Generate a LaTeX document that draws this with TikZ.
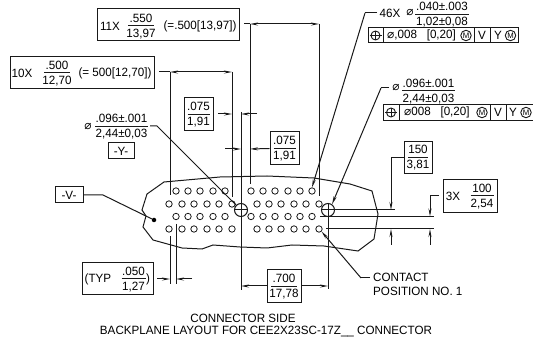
\documentclass[tikz,border=0pt]{standalone}
\usepackage{fontspec}
\setmainfont[FakeStretch=0.97]{Liberation Sans}
\newfontfamily\symf{DejaVu Sans}
\usetikzlibrary{arrows.meta}
\newcommand{\Dia}{{\symf ⌀}}
% name, x, y(line), half width, top, bottom
\newcommand{\FracAt}[6]{%
  \node[txt] (#1-t) at (#2,#3-8) {#5};
  \node[txt] (#1-b) at (#2,#3+8) {#6};
  \coordinate (#1-l) at (#2-#4,#3);
  \coordinate (#1-r) at (#2+#4,#3);
  \draw[ln] (#1-l) -- (#1-r);}
\tikzset{
  ln/.style={line width=1pt,black!90},
  dimarr/.style={ln,-{Stealth[length=8pt,width=3pt]}},
  dimboth/.style={ln,{Stealth[length=8pt,width=3pt]}-{Stealth[length=8pt,width=3pt]}},
  txt/.style={inner sep=0pt,font=\fontsize{12}{13}\selectfont,text=black},
  frbox/.style={draw=black!90,line width=1pt,inner sep=0pt},
  hole/.style={circle,draw=black!90,line width=0.8pt,minimum size=6.4pt,inner sep=0pt},
  big/.style={circle,draw=black!90,line width=1pt,minimum size=13pt,inner sep=0pt},
  possym/.style={circle,draw=black!90,line width=0.9pt,minimum size=9pt,inner sep=0pt},
  emm/.style={circle,draw=black!90,line width=0.9pt,minimum size=10.5pt,inner sep=0pt,font=\fontsize{8}{9}\selectfont},
  vdot/.style={circle,fill=black,minimum size=4.5pt,inner sep=0pt}
}
\begin{document}
\begin{tikzpicture}[x=1pt,y=-1pt]
\useasboundingbox (0,0) rectangle (533,344);
% outline
\draw[ln] (164,182) -- (147,194) -- (142,210) -- (146,216) -- (143,227) -- (153,240) -- (182,248) -- (202,249) -- (213,245) -- (240,247) -- (267,248) -- (292,245) -- (324,246) -- (358,251) -- (374,239) -- (378,214) -- (372,191) -- (350,184) -- (314,178) -- (267,176) -- (220,177) -- cycle;
% holes
\foreach \x in {176,188,200,213,225,251,263,275,288,300,312} {
  \node[hole] (ha-\x) at (\x,191) {};
  \node[hole] (hc-\x) at (\x,216.5) {};
}
\foreach \x in {169,182,194,207,219,232,257,269,281,294,306,319} {
  \node[hole] (hb-\x) at (\x,204) {};
  \node[hole] (hd-\x) at (\x,229) {};
}
\node[big] (c1) at (241,210) {};
\draw[ln] (c1.west) -- (c1.east);
\node[big] (c2) at (328,210) {};
\draw[ln] (c2.west) -- (c2.east);
% extension line ends
\coordinate (e170t) at (170,72); \coordinate (e170b) at (170,195);
\coordinate (e232t) at (232,72); \coordinate (e232b) at (232,197);
\coordinate (e250t) at (250,24); \coordinate (e250b) at (250,184);
\coordinate (e319t) at (319,24); \coordinate (e319b) at (319,196);
\coordinate (e241t) at (241,112); \coordinate (e241b) at (241,290);
\coordinate (e328b) at (328,289);
\coordinate (e170c) at (170,236); \coordinate (e170d) at (170,284);
\coordinate (e176c) at (176,224); \coordinate (e176d) at (176,284);
\draw[ln] (e170t) -- (e170b);
\draw[ln] (e232t) -- (e232b);
\draw[ln] (e250t) -- (e250b);
\draw[ln] (e319t) -- (e319b);
\draw[ln] (e241t) -- (e241b);
\draw[ln] (c2.north) -- (e328b);
\draw[ln] (e170c) -- (e170d);
\draw[ln] (e176c) -- (e176d);
\coordinate (r1a) at (334,210); \coordinate (r1b) at (395,210);
\coordinate (r2a) at (320,216.5); \coordinate (r2b) at (434,216.5);
\coordinate (r3a) at (326,229); \coordinate (r3b) at (434,229);
\draw[ln] (r1a) -- (r1b);
\draw[ln] (r2a) -- (r2b);
\draw[ln] (r3a) -- (r3b);
% 11X
\node[frbox,minimum width=142pt,minimum height=32pt] (b11) at (168,25) {};
\node[txt] (t11) at (110,26) {11X};
\FracAt{f11}{141}{26}{13}{.550}{13,97}
\node[txt] (p11) at (200,26) {(=.500[13,97])};
\coordinate (d11a) at (244,24); \coordinate (d11b) at (250,24); \coordinate (d11c) at (319,24);
\draw[ln] (d11a) -- (d11b);
\draw[dimboth] (d11b) -- (d11c);
% 10X
\node[frbox,minimum width=144pt,minimum height=32pt] (b10) at (82,73) {};
\node[txt] (t10) at (22,73) {10X};
\FracAt{f10}{57}{73}{13}{.500}{12,70}
\node[txt] (p10) at (115,73) {(= 500[12,70])};
\coordinate (d10a) at (159,72); \coordinate (d10b) at (170,72); \coordinate (d10c) at (232,72);
\draw[ln] (d10a) -- (d10b);
\draw[dimboth] (d10b) -- (d10c);
% .075 upper
\node[frbox,minimum width=29pt,minimum height=33pt] (b75a) at (198.5,114.5) {};
\FracAt{f75a}{198.5}{114.5}{11}{.075}{1,91}
\coordinate (a1) at (218,114); \coordinate (a2) at (232,114); \coordinate (a3) at (257,114); \coordinate (a4) at (241,114);
\draw[dimarr] (a1) -- (a2);
\draw[dimarr] (a3) -- (a4);
% .075 lower
\node[frbox,minimum width=29pt,minimum height=33pt] (b75b) at (284.5,148.5) {};
\FracAt{f75b}{284.5}{148.5}{11}{.075}{1,91}
\coordinate (a5) at (225,149); \coordinate (a6) at (241,149); \coordinate (a7) at (250,149);
\draw[dimarr] (a5) -- (a6);
\draw[dimarr] (b75b.west) -- (a7);
% left dia + Y
\node[txt] (dl) at (88,127) {\Dia};
\FracAt{fl}{121.5}{126.5}{26.5}{.096±.001}{2,44±0,03}
\coordinate (ll1) at (150,126); \coordinate (ll2) at (157,126);
\draw[ln] (ll1) -- (ll2) -- (c1.135);
\node[frbox,minimum width=26pt,minimum height=16pt,txt] (yb) at (121,151) {-Y-};
% 46X
\node[txt] (t46) at (390,13) {46X};
\node[txt] (d46) at (410,13) {\Dia};
\FracAt{f46}{442}{14.5}{27}{.040±.003}{1,02±0,08}
\coordinate (l46a) at (377,13); \coordinate (l46b) at (365,13);
\draw[ln] (l46a) -- (l46b);
\draw[dimarr] (l46b) -- (ha-312.north);
% FCF 1
\node[frbox,minimum width=150pt,minimum height=15pt] (fa) at (443,35.5) {};
\coordinate (fa1t) at (383,28); \coordinate (fa1b) at (383,43);
\coordinate (fa2t) at (474,28); \coordinate (fa2b) at (474,43);
\coordinate (fa3t) at (490,28); \coordinate (fa3b) at (490,43);
\draw[ln] (fa1t) -- (fa1b);
\draw[ln] (fa2t) -- (fa2b);
\draw[ln] (fa3t) -- (fa3b);
\node[possym] (pa) at (375.5,35.5) {};
\coordinate (pa1) at (369.5,35.5); \coordinate (pa2) at (381.5,35.5);
\draw[ln] (pa1) -- (pa2);
\draw[ln] (pa.north) -- (pa.south);
\node[txt,anchor=west] (ta) at (387,35.5) {\Dia,008 \ \ [0,20]};
\node[emm] (ma1) at (466,35.5) {M};
\node[txt] (va) at (482,35.5) {V};
\node[txt] (ya) at (498,35.5) {Y};
\node[emm] (ma2) at (510.5,35.5) {M};
% right dia
\node[txt] (dr) at (396,88) {\Dia};
\FracAt{fr}{428.5}{91}{26.5}{.096±.001}{2,44±0,03}
\coordinate (lr1) at (389,88); \coordinate (lr2) at (381,88);
\draw[ln] (lr1) -- (lr2);
\draw[dimarr] (lr2) -- (c2.55);
% FCF 2
\node[frbox,minimum width=150pt,minimum height=16pt] (fb) at (458,112.5) {};
\coordinate (fb1t) at (399,104.5); \coordinate (fb1b) at (399,120.5);
\coordinate (fb2t) at (490,104.5); \coordinate (fb2b) at (490,120.5);
\coordinate (fb3t) at (506,104.5); \coordinate (fb3b) at (506,120.5);
\draw[ln] (fb1t) -- (fb1b);
\draw[ln] (fb2t) -- (fb2b);
\draw[ln] (fb3t) -- (fb3b);
\node[possym] (pb) at (391,112.5) {};
\coordinate (pb1) at (385,112.5); \coordinate (pb2) at (397,112.5);
\draw[ln] (pb1) -- (pb2);
\draw[ln] (pb.north) -- (pb.south);
\node[txt,anchor=west] (tb) at (404,112.5) {\Dia 008 \ \ [0,20]};
\node[emm] (mb1) at (482,112.5) {M};
\node[txt] (vb) at (498,112.5) {V};
\node[txt] (yb2) at (513,112.5) {Y};
\node[emm] (mb2) at (526,112.5) {M};
% 150
\node[frbox,minimum width=28pt,minimum height=32pt] (b150) at (418,158) {};
\FracAt{f150}{418}{157.5}{10}{150}{3,81}
\coordinate (q1) at (391,158); \coordinate (q2) at (391,210); \coordinate (q3) at (391,245); \coordinate (q4) at (391,229);
\draw[dimarr] (b150.west) -- (q1) -- (q2);
\draw[dimarr] (q3) -- (q4);
% 3X
\node[frbox,minimum width=54pt,minimum height=33pt] (b3) at (470,196.5) {};
\node[txt] (t3) at (453,196) {3X};
\FracAt{f3}{482}{196}{11.5}{100}{2,54}
\coordinate (s1) at (430,196); \coordinate (s2) at (430,216.5); \coordinate (s3) at (430,245); \coordinate (s4) at (430,229);
\coordinate (s0) at (439,196);
\draw[dimarr] (s0) -- (s1) -- (s2);
\draw[dimarr] (s3) -- (s4);
% .700
\node[frbox,minimum width=34pt,minimum height=33pt] (b700) at (284,286.5) {};
\FracAt{f700}{284}{286.5}{13}{.700}{17,78}
\coordinate (t1) at (241,286); \coordinate (t2) at (328,286);
\coordinate (t3a) at (267,286); \coordinate (t4a) at (301,286);
\draw[dimarr] (t3a) -- (t1);
\draw[dimarr] (t4a) -- (t2);
% contact
\node[txt,anchor=west] (cc1) at (373,277) {CONTACT};
\node[txt,anchor=west] (cc2) at (373,291) {POSITION NO. 1};
\coordinate (u1) at (370,278); \coordinate (u2) at (361,278);
\draw[ln] (u1) -- (u2);
\draw[dimarr] (u2) -- (hd-319.south east);
% V
\node[frbox,minimum width=28pt,minimum height=16pt,txt] (vbox) at (69,195) {-V-};
\node[vdot] (vd) at (154,220) {};
\coordinate (v1) at (103,195);
\draw[ln] (vbox.east) -- (v1) -- (vd);
% TYP
\node[frbox,minimum width=71pt,minimum height=32pt] (btyp) at (117.5,279) {};
\node[txt] (ttyp) at (98,279) {(TYP};
\FracAt{ftyp}{133.5}{279}{12}{.050}{1,27}
\node[txt] (ptyp) at (148,279) {)};
\coordinate (w1) at (157,279); \coordinate (w2) at (170,279); \coordinate (w3) at (192,279); \coordinate (w4) at (176,279);
\draw[dimarr] (w1) -- (w2);
\draw[dimarr] (w3) -- (w4);
% titles
\node[txt] (ti1) at (243,318) {CONNECTOR SIDE};
\node[txt] (ti2) at (266,332) {BACKPLANE LAYOUT FOR CEE2X23SC-17Z\_\_ CONNECTOR};
\end{tikzpicture}
\end{document}
